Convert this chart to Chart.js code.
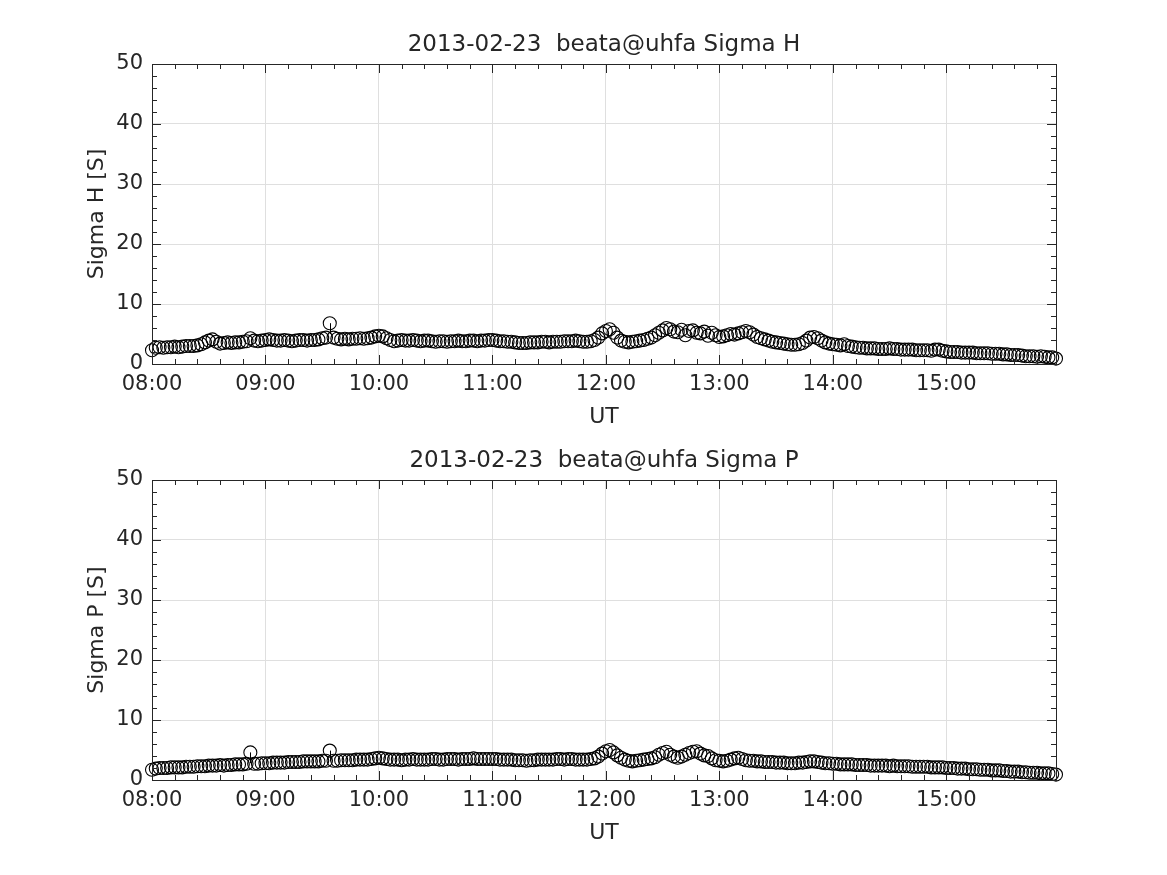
<!DOCTYPE html>
<html>
<head>
<meta charset="utf-8">
<script src="https://cdn.jsdelivr.net/npm/chart.js@4.4.1/dist/chart.umd.min.js"></script>
<style>
  body { margin:0; background:#fff; }
  #wrap { position:relative; width:1167px; height:875px; }
  canvas { position:absolute; left:0; }
  #cH { top:0; }
  #cP { top:437px; }
</style>
</head>
<body>
<div id="wrap">
  <canvas id="cH" width="1167" height="437"></canvas>
  <canvas id="cP" width="1167" height="438"></canvas>
</div>
<script>
// time grid: minutes after 08:00, one sample every 2 minutes
const startMin = 0;
const stepMin = 2;
const xMax = 478;

const hourTicks = [0, 60, 120, 180, 240, 300, 360, 420];
const hourLabels = ['08:00', '09:00', '10:00', '11:00', '12:00', '13:00', '14:00', '15:00'];
const yTicks = [0, 10, 20, 30, 40, 50];

// Sigma H [S], one row per hour (08..15)
const sigmaH = [
  2.3,2.7,2.8,2.7,2.8,2.8,2.9,2.8,2.9,3.0,3.0,3.0,3.1,3.3,3.6,3.9,4.1,3.7,3.4,3.5,3.6,3.5,3.6,3.6,3.7,3.8,4.3,3.9,3.8,3.9,
  4.0,4.1,4.0,3.9,3.9,4.0,3.9,3.8,3.9,4.0,4.0,3.9,4.0,4.0,4.1,4.3,4.4,6.8,4.4,4.2,4.1,4.2,4.1,4.2,4.2,4.3,4.2,4.3,4.4,4.6,
  4.7,4.6,4.3,4.0,3.8,3.9,4.0,3.9,3.9,4.0,3.9,3.8,3.9,3.9,3.8,3.7,3.8,3.8,3.7,3.8,3.8,3.9,3.8,3.8,3.9,3.9,3.8,3.9,3.9,4.0,
  4.0,3.9,3.8,3.8,3.7,3.7,3.6,3.5,3.5,3.5,3.6,3.6,3.6,3.7,3.7,3.6,3.7,3.7,3.7,3.8,3.8,3.8,3.9,3.8,3.7,3.7,3.8,4.0,4.4,5.1,
  5.5,5.8,5.2,4.4,3.9,3.7,3.6,3.7,3.8,3.9,4.0,4.2,4.4,4.8,5.2,5.6,6.0,5.8,5.4,5.3,5.7,4.8,5.5,5.6,5.2,5.1,5.4,4.7,5.2,4.8,
  4.5,4.6,4.8,5.0,4.9,5.1,5.3,5.5,5.3,4.9,4.5,4.3,4.1,3.9,3.7,3.6,3.5,3.4,3.3,3.2,3.2,3.3,3.5,3.9,4.4,4.5,4.3,3.9,3.6,3.4,
  3.3,3.2,3.1,3.3,3.0,2.9,2.8,2.7,2.7,2.6,2.6,2.6,2.5,2.5,2.5,2.6,2.5,2.5,2.4,2.4,2.4,2.4,2.3,2.3,2.3,2.3,2.2,2.4,2.4,2.2,
  2.1,2.0,2.0,2.0,1.9,1.9,1.9,1.9,1.8,1.8,1.8,1.8,1.7,1.7,1.7,1.6,1.6,1.5,1.5,1.5,1.4,1.3,1.3,1.3,1.2,1.3,1.2,1.1,1.1,0.9
];

// Sigma P [S]
const sigmaP = [
  1.7,1.9,2.0,2.0,2.0,2.1,2.1,2.1,2.1,2.2,2.2,2.2,2.3,2.3,2.3,2.4,2.4,2.4,2.5,2.4,2.5,2.5,2.6,2.6,2.6,2.7,4.6,2.7,2.7,2.8,
  2.8,2.8,2.9,2.9,2.9,2.9,3.0,3.0,3.0,3.0,3.1,3.1,3.1,3.1,3.1,3.2,3.2,4.9,3.2,3.2,3.3,3.3,3.3,3.3,3.4,3.4,3.4,3.4,3.5,3.6,
  3.7,3.6,3.5,3.4,3.4,3.4,3.3,3.4,3.4,3.5,3.4,3.4,3.4,3.4,3.5,3.5,3.4,3.4,3.5,3.5,3.5,3.4,3.5,3.5,3.5,3.6,3.5,3.5,3.5,3.5,
  3.5,3.5,3.4,3.4,3.4,3.4,3.3,3.3,3.3,3.2,3.3,3.3,3.4,3.4,3.4,3.4,3.4,3.5,3.5,3.4,3.5,3.5,3.4,3.4,3.4,3.4,3.5,3.6,3.9,4.4,
  4.8,5.0,4.6,4.1,3.7,3.4,3.2,3.1,3.2,3.3,3.4,3.5,3.6,3.8,4.2,4.5,4.7,4.2,3.9,3.7,3.9,4.2,4.5,4.7,4.8,4.4,4.1,4.0,3.6,3.3,
  3.2,3.1,3.2,3.4,3.6,3.7,3.5,3.3,3.2,3.2,3.1,3.1,3.0,3.0,3.0,2.9,2.9,2.9,2.8,2.8,2.8,2.9,2.9,3.0,3.1,3.1,3.0,2.9,2.8,2.8,
  2.7,2.7,2.6,2.6,2.6,2.6,2.5,2.5,2.5,2.5,2.4,2.4,2.4,2.4,2.4,2.3,2.4,2.3,2.3,2.3,2.3,2.2,2.2,2.2,2.2,2.2,2.1,2.1,2.1,2.1,
  2.0,2.0,2.0,1.9,1.9,1.9,1.8,1.8,1.8,1.7,1.7,1.7,1.6,1.6,1.6,1.5,1.5,1.4,1.4,1.4,1.3,1.3,1.2,1.2,1.2,1.1,1.1,1.1,1.0,0.9
];

// visible error bars (only the outliers show one): sample index and half-width [S]
const errH = [{ i: 47, e: 1.8 }];
const errP = [{ i: 26, e: 1.8 }, { i: 47, e: 1.8 }];

const FONT = "'DejaVu Sans', sans-serif";
const TXT = '#262626';

// MATLAB-like box, inward ticks, title and axis labels
const axesDecor = {
  id: 'axesDecor',
  afterDatasetsDraw(chart, args, opts) {
    const ctx = chart.ctx;
    const sx = chart.scales.x, sy = chart.scales.y;
    const pts = chart.data.datasets[0].data;
    ctx.save();
    ctx.strokeStyle = '#000';
    ctx.lineWidth = 1;
    ctx.beginPath();
    opts.errors.forEach(eb => {
      const p = pts[eb.i];
      const px = Math.round(sx.getPixelForValue(p.x)) + 0.5;
      ctx.moveTo(px, sy.getPixelForValue(p.y));
      ctx.lineTo(px, sy.getPixelForValue(p.y - eb.e));
    });
    ctx.stroke();
    ctx.restore();
  },
  afterDraw(chart, args, opts) {
    const ctx = chart.ctx, a = chart.chartArea;
    const sx = chart.scales.x, sy = chart.scales.y;
    ctx.save();
    ctx.strokeStyle = TXT;
    ctx.lineWidth = 1;
    ctx.strokeRect(Math.round(a.left) + 0.5, Math.round(a.top) + 0.5, Math.round(a.right - a.left), Math.round(a.bottom - a.top));
    ctx.beginPath();
    for (let m = 0; m <= xMax; m += 12) {
      const px = Math.round(sx.getPixelForValue(m)) + 0.5;
      const len = hourTicks.includes(m) ? 9 : 5;
      ctx.moveTo(px, a.bottom); ctx.lineTo(px, a.bottom - len);
      ctx.moveTo(px, a.top); ctx.lineTo(px, a.top + len);
    }
    for (let v = 0; v <= 50; v += 2) {
      const py = Math.round(sy.getPixelForValue(v)) + 0.5;
      const len = yTicks.includes(v) ? 9 : 5;
      ctx.moveTo(a.left, py); ctx.lineTo(a.left + len, py);
      ctx.moveTo(a.right, py); ctx.lineTo(a.right - len, py);
    }
    ctx.stroke();

    ctx.fillStyle = TXT;
    ctx.textAlign = 'center';
    ctx.textBaseline = 'middle';
    const cx = (a.left + a.right) / 2;
    ctx.font = '23px ' + FONT;
    ctx.fillText(opts.title, cx, a.top - 19);
    ctx.font = '22px ' + FONT;
    ctx.fillText('UT', cx, a.bottom + 53);
    ctx.translate(97, (a.top + a.bottom) / 2);
    ctx.rotate(-Math.PI / 2);
    ctx.fillText(opts.ylabel, 0, 0);
    ctx.restore();
  }
};

function makeChart(id, values, errors, title, ylabel, padTop, padBottom) {
  const pts = values.map((v, i) => ({ x: startMin + i * stepMin, y: v }));
  return new Chart(document.getElementById(id), {
    type: 'scatter',
    data: {
      datasets: [{
        data: pts,
        pointStyle: 'circle',
        pointRadius: 6.5,
        borderColor: '#000',
        borderWidth: 1.1,
        backgroundColor: 'rgba(0,0,0,0)',
        showLine: false,
        clip: false
      }]
    },
    options: {
      responsive: false,
      animation: false,
      events: [],
      layout: { padding: { left: 92, right: 111, top: padTop, bottom: padBottom } },
      plugins: {
        legend: { display: false },
        tooltip: { enabled: false },
        axesDecor: { title: title, ylabel: ylabel, errors: errors }
      },
      scales: {
        x: {
          type: 'linear',
          min: 0,
          max: xMax,
          afterBuildTicks: s => { s.ticks = hourTicks.map(v => ({ value: v })); },
          afterFit: s => { s.height = 40; },
          ticks: {
            callback: (v) => hourLabels[hourTicks.indexOf(v)],
            font: { family: FONT, size: 21 },
            color: TXT,
            padding: 8,
            maxRotation: 0
          },
          grid: { color: '#dfdfdf', drawTicks: false },
          border: { display: false }
        },
        y: {
          min: 0,
          max: 50,
          afterBuildTicks: s => { s.ticks = yTicks.map(v => ({ value: v })); },
          afterFit: s => { s.width = 60; },
          ticks: {
            font: { family: FONT, size: 21 },
            color: TXT,
            padding: 9
          },
          grid: { color: '#dfdfdf', drawTicks: false },
          border: { display: false }
        }
      }
    },
    plugins: [axesDecor]
  });
}

makeChart('cH', sigmaH, errH, '2013-02-23  beata@uhfa Sigma H', 'Sigma H [S]', 64, 33);
makeChart('cP', sigmaP, errP, '2013-02-23  beata@uhfa Sigma P', 'Sigma P [S]', 43, 55);
</script>
</body>
</html>
